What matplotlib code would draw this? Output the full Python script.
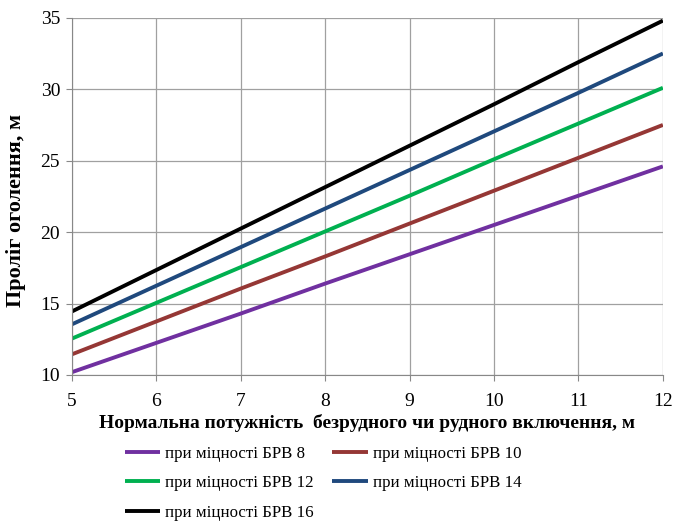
import matplotlib.pyplot as plt

plt.rcParams['font.family'] = ['Liberation Serif', 'DejaVu Serif']

x = [5, 6, 7, 8, 9, 10, 11, 12]
brv8 = [10.2, 12.25, 14.3, 16.4, 18.45, 20.5, 22.55, 24.6]
brv10 = [11.45, 13.75, 16.05, 18.3, 20.6, 22.9, 25.2, 27.5]
brv12 = [12.55, 15.05, 17.55, 20.05, 22.55, 25.1, 27.6, 30.1]
brv14 = [13.55, 16.25, 18.95, 21.65, 24.35, 27.05, 29.75, 32.5]
brv16 = [14.45, 17.35, 20.25, 23.15, 26.05, 28.95, 31.9, 34.8]

series = [
    ('при міцності БРВ 8', brv8, '#7030A0'),
    ('при міцності БРВ 10', brv10, '#953735'),
    ('при міцності БРВ 12', brv12, '#00B050'),
    ('при міцності БРВ 14', brv14, '#1F497D'),
    ('при міцності БРВ 16', brv16, '#000000'),
]

fig = plt.figure(figsize=(6.73, 5.23), dpi=100)
ax = fig.add_axes([0.107, 0.283, 0.878, 0.683])

lines = []
for label, vals, color in series:
    ln, = ax.plot(x, vals, color=color, lw=2.8, label=label, solid_capstyle='butt')
    lines.append(ln)

ax.set_xlim(5, 12)
ax.set_ylim(10, 35)
ax.set_xticks(range(5, 13))
ax.set_yticks(range(10, 36, 5))
ax.grid(True, color='#a0a0a0', lw=0.9)
ax.set_axisbelow(True)
for s in ['top', 'right']:
    ax.spines[s].set_visible(False)
for s in ['left', 'bottom']:
    ax.spines[s].set_color('#888888')
ax.tick_params(labelsize=14, length=4, color='#888888')
ax.tick_params(axis='x', pad=9)
ax.tick_params(axis='y', pad=4.6)

ax.set_xlabel('Нормальна потужність  безрудного чи рудного включення, м',
              fontsize=14, fontweight='bold', labelpad=3)
ax.set_ylabel('Проліг оголення, м', fontsize=16, fontweight='bold')
ax.yaxis.set_label_coords(-0.078, 0.46)

# row-wise legend order for 2 columns
order = [0, 2, 4, 1, 3]
fig.legend([lines[i] for i in order], [series[i][0] for i in order],
           loc='upper left', bbox_to_anchor=(0.185, 0.147), ncol=2, frameon=False,
           fontsize=12.2, handlelength=2.1, columnspacing=1.1, labelspacing=0.78,
           handletextpad=0.3, borderpad=0, borderaxespad=0)

fig.savefig('out.png', dpi=100)
